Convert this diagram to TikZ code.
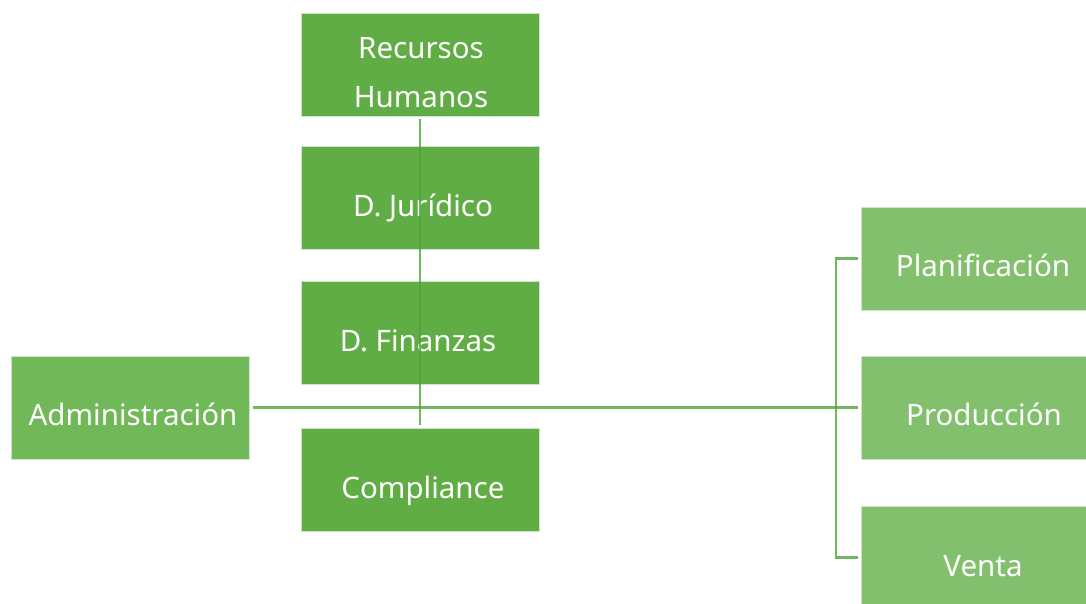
\documentclass[tikz,border=0pt]{standalone}
\usepackage{fontspec}
\setmainfont{Noto Sans}
\definecolor{boxdark}{HTML}{60AD45}
\definecolor{boxadm}{HTML}{71B858}
\definecolor{boxright}{HTML}{83C06E}
\definecolor{linec}{HTML}{4FA438}
\tikzset{
  unitbox/.style={rectangle, draw=white!70!boxdark, line width=0.6pt, minimum width=238pt, minimum height=103pt, inner sep=0pt},
  dbox/.style={unitbox, fill=boxdark},
  abox/.style={unitbox, fill=boxadm},
  rbox/.style={unitbox, fill=boxright, minimum width=226pt},
  lbl/.style={anchor=base, text=white, font=\fontsize{29.5}{49}\selectfont, align=center, inner sep=0pt},
  conn/.style={draw=linec, opacity=0.8, line width=2.4pt}
}
\begin{document}
\begin{tikzpicture}[x=1pt,y=-1pt]
\useasboundingbox (0,0) rectangle (1086,603);
\node[dbox] (rh) at (420,64.5) {};
\node[dbox] (jur) at (420,198) {};
\node[dbox] (fin) at (420,332.5) {};
\node[dbox] (comp) at (420,479.5) {};
\node[abox] (adm) at (130,407.5) {};
\node[rbox] (pl) at (974,258.5) {};
\node[rbox] (prod) at (974,407.5) {};
\node[rbox] (ve) at (974,557.5) {};
\node[lbl] (trh) at (421,107) {Recursos\\Humanos};
\node[lbl] (tjur) at (423,216) {D. Jurídico};
\node[lbl] (tfin) at (418,351) {D. Finanzas};
\node[lbl] (tcomp) at (423,498) {Compliance};
\node[lbl] (tadm) at (133,425) {Administración};
\node[lbl] (tpl) at (983,276) {Planificación};
\node[lbl] (tprod) at (984,425) {Producción};
\node[lbl] (tve) at (983,576) {Venta};
\coordinate (bx) at (836,0);
\draw[conn] ([yshift=-3pt]rh.south) -- ([yshift=3pt]comp.north);
\draw[conn] ([xshift=4pt]adm.east) -- ([xshift=-3pt]prod.west);
\draw[conn] ([xshift=-3pt]pl.west) -- (pl.west -| bx) -- (ve.west -| bx) -- ([xshift=-3pt]ve.west);
\end{tikzpicture}
\end{document}
